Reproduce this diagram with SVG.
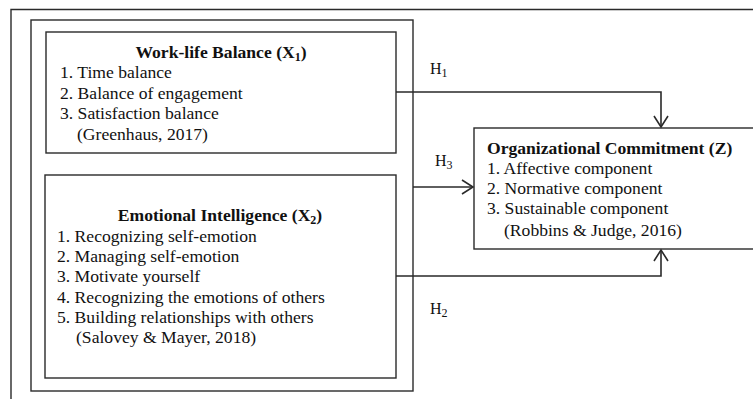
<svg xmlns="http://www.w3.org/2000/svg" width="753" height="399" viewBox="0 0 753 399">
<defs>
<style>
.box{fill:#fff;stroke:#2a2a2a;stroke-width:1.4}
.frame{fill:none;stroke:#2a2a2a;stroke-width:1.4}
.ln{fill:none;stroke:#2a2a2a;stroke-width:1.6}
.hd{fill:none;stroke:#2a2a2a;stroke-width:1.6;stroke-linejoin:miter}
text{font-family:"Liberation Serif","Times New Roman",serif;font-size:17.6px;fill:#111}
.b{font-weight:bold}
.sub{font-size:12px}
.h{font-size:16px}
</style>
</defs>
<rect width="753" height="399" fill="#fff"/>
<g id="page-frame">
<path class="frame" d="M11,399 V9.5 H753"/>
</g>
<g id="group-frame">
<rect class="frame" x="31" y="20" width="382" height="371"/>
</g>
<g id="work-life-balance">
<rect class="box" x="46" y="32" width="350" height="121"/>
<text class="b" x="221" y="58" text-anchor="middle">Work-life Balance (X<tspan class="sub" dy="3">1</tspan><tspan dy="-3">)</tspan></text>
<text x="60" y="78">1. Time balance</text>
<text x="60" y="98.5">2. Balance of engagement</text>
<text x="60" y="119">3. Satisfaction balance</text>
<text x="77" y="139.5">(Greenhaus, 2017)</text>
</g>
<g id="emotional-intelligence">
<rect class="box" x="45" y="175" width="351" height="203"/>
<text class="b" x="220" y="221" text-anchor="middle">Emotional Intelligence (X<tspan class="sub" dy="3">2</tspan><tspan dy="-3">)</tspan></text>
<text x="57" y="241.5">1. Recognizing self-emotion</text>
<text x="57" y="262">2. Managing self-emotion</text>
<text x="57" y="282">3. Motivate yourself</text>
<text x="57" y="302.5">4. Recognizing the emotions of others</text>
<text x="57" y="323">5. Building relationships with others</text>
<text x="76" y="343">(Salovey &amp; Mayer, 2018)</text>
</g>
<g id="organizational-commitment">
<rect class="box" x="474" y="128" width="285" height="121"/>
<text class="b" x="487" y="154">Organizational Commitment (Z)</text>
<text x="487" y="174">1. Affective component</text>
<text x="487" y="194">2. Normative component</text>
<text x="487" y="214">3. Sustainable component</text>
<text x="504" y="236">(Robbins &amp; Judge, 2016)</text>
</g>
<g id="connectors">
<path class="ln" d="M396,92 H661 V127"/>
<path class="hd" d="M654,116 L661,127 L668,116"/>
<path class="ln" d="M413,187 H473"/>
<path class="hd" d="M462,180 L473,187 L462,194"/>
<path class="ln" d="M396,276 H661 V250"/>
<path class="hd" d="M654,261 L661,250 L668,261"/>
<text class="h" x="430" y="74">H<tspan class="sub" dy="3">1</tspan></text>
<text class="h" x="435" y="166">H<tspan class="sub" dy="3">3</tspan></text>
<text class="h" x="430" y="314">H<tspan class="sub" dy="3">2</tspan></text>
</g>
</svg>
